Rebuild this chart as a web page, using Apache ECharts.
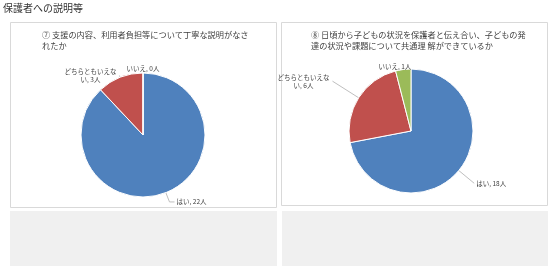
<!DOCTYPE html>
<html>
<head>
<meta charset="utf-8">
<script src="https://cdn.jsdelivr.net/npm/echarts@6/dist/echarts.min.js"></script>
<style>
  html, body { margin: 0; padding: 0; background: #fff; }
  #chart { width: 549px; height: 272px; }
</style>
</head>
<body>
<div id="chart"></div>
<script>
// 回答の区分
var answers = ['はい', 'どちらともいえない', 'いいえ'];
// ⑦ と ⑧ の人数
var q7Values = [22, 3, 0];
var q8Values = [18, 6, 1];
var q7Title = '⑦ 支援の内容、利用者負担等について丁寧な説明がなさ\nれたか';
var q8Title = '⑧ 日頃から子どもの状況を保護者と伝え合い、子どもの発\n達の状況や課題について共通理 解ができているか';

var colors = ['#4F81BD', '#C0504D', '#9BBB59'];
var font = '"Noto Sans CJK JP", "Noto Sans", sans-serif';

// ラベル線の長さなど (項目ごと)
var q7Lines = [
  { len: 10, len2: 5, dist: 2 },
  { len: 2, len2: 0, dist: 2, rich: true },
  { len: 4, len2: 0, dist: 0, center: true }
];
var q8Lines = [
  { len: 20, len2: 0, dist: 2 },
  { len: 31, len2: 0, dist: 2, rich: true },
  { len: 3, len2: 8, dist: 0, center: true }
];

function toData(vals, lines) {
  return answers.map(function (a, i) {
    var l = lines[i];
    var item = {
      name: a,
      value: vals[i],
      labelLine: { length: l.len, length2: l.len2, show: !l.center },
      label: { distanceToLabelLine: l.dist }
    };
    if (l.rich) item.label.formatter = '{r|{b}, {c}人}';
    return item;
  });
}

function pieSeries(vals, center, lines) {
  return {
    type: 'pie',
    center: center,
    radius: 62,
    startAngle: 90,
    clockwise: true,
    avoidLabelOverlap: false,
    data: toData(vals, lines),
    itemStyle: { borderColor: '#fff', borderWidth: 1 },
    label: {
      formatter: '{b}, {c}人',
      fontSize: 6.5,
      fontFamily: font,
      color: '#404040',
      width: 54,
      overflow: 'breakAll',
      lineHeight: 8,
      rich: {
        r: { align: 'center', fontSize: 6.5, lineHeight: 8, color: '#404040', fontFamily: font }
      }
    },
    labelLine: {
      lineStyle: { color: '#bfbfbf', width: 1 }
    },
    labelLayout: function (p) {
      if (lines[p.dataIndex].center) return { align: 'center' };
      return {};
    },
    emphasis: { disabled: true }
  };
}

var myChart = echarts.init(document.getElementById('chart'));
var option = {
  color: colors,
  animation: false,
  textStyle: { fontFamily: font },
  graphic: [
    { type: 'rect', shape: { x: 10.5, y: 22.5, width: 266, height: 185 },
      style: { fill: '#fff', stroke: '#d9d9d9', lineWidth: 1 }, z: -10 },
    { type: 'rect', shape: { x: 281.5, y: 22.5, width: 266, height: 183 },
      style: { fill: '#fff', stroke: '#d9d9d9', lineWidth: 1 }, z: -10 },
    { type: 'rect', shape: { x: 10, y: 211, width: 267, height: 55 },
      style: { fill: '#f0f0f0' }, z: -10 },
    { type: 'rect', shape: { x: 282, y: 211, width: 266, height: 55 },
      style: { fill: '#f0f0f0' }, z: -10 },
    { type: 'text', left: 3, top: 3,
      style: { text: '保護者への説明等', fontSize: 10, fill: '#333', fontFamily: font } }
  ],
  title: [
    { text: q7Title, left: 42, top: 29, padding: 0,
      textStyle: { fontSize: 8.2, fontWeight: 'normal', color: '#404040', lineHeight: 11, fontFamily: font } },
    { text: q8Title, left: 311, top: 29, padding: 0,
      textStyle: { fontSize: 8.2, fontWeight: 'normal', color: '#404040', lineHeight: 11, fontFamily: font } }
  ],
  series: [
    pieSeries(q7Values, [143, 135], q7Lines),
    pieSeries(q8Values, [411, 131], q8Lines)
  ]
};
myChart.setOption(option);
</script>
</body>
</html>
